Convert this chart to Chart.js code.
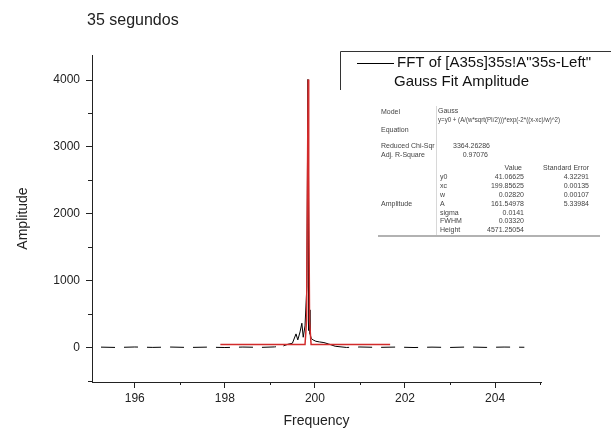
<!DOCTYPE html>
<html lang="es">
<head>
<meta charset="UTF-8">
<title>FFT 35 segundos</title>
<script src="https://cdn.jsdelivr.net/npm/chart.js"></script>
<style>
  html, body { margin: 0; padding: 0; background: #fff; }
  #wrap { width: 611px; height: 436px; }
</style>
</head>
<body>
<div id="wrap"><canvas id="fft"></canvas></div>

<script>
// ---- FFT of the 35 s left channel (black) ----
const fftFreq = [195.25, 195.6, 196.0, 196.4, 196.8, 197.2, 197.6, 198.0, 198.4, 198.8,
                 199.1, 199.3, 199.4, 199.5, 199.58, 199.62, 199.67, 199.71, 199.74, 199.78,
                 199.82, 199.845, 199.86, 199.875, 199.89, 199.92, 199.96, 200.02, 200.1, 200.2,
                 200.3, 200.45, 200.7, 201.0, 201.4, 201.8, 202.2, 202.6, 203.0, 203.4,
                 203.8, 204.2, 204.65];
const fftAmp  = [2, -3, 4, -2, 3, -3, 2, -4, 3, -2,
                 5, 20, 45, 60, 200, 110, 230, 360, 150, 320,
                 900, 4010, 250, 560, 200, 130, 110, 90, 80, 70,
                 50, 15, -3, 4, -2, 3, -4, 2, -3, 4,
                 -2, 3, 0];

// ---- Gauss fit (red) ----
const fitFreq = [197.9, 199.78, 199.815, 199.835, 199.85, 199.862, 199.88, 199.915, 201.67];
const fitAmp  = [41, 41, 400, 2600, 4010, 2600, 400, 41, 41];

// ---- axes ----
const xMin = 195.05, xMax = 205.02;
const yMin = -520, yMax = 4375;
const xTicks = [196, 198, 200, 202, 204];
const xMinor = [197, 199, 201, 203, 205];
const yTicks = [0, 1000, 2000, 3000, 4000];
const yMinor = [-500, 500, 1500, 2500, 3500];

const chartTitle = '35 segundos';
const legendLabels = ['FFT of [A35s]35s!A"35s-Left"', 'Gauss Fit Amplitude'];

// ---- fit results table ----
const fitInfo = [
  ['Model', 'Gauss'],
  ['Equation', 'y=y0 + (A/(w*sqrt(PI/2)))*exp(-2*((x-xc)/w)^2)'],
  ['Reduced Chi-Sqr', '3364.26286'],
  ['Adj. R-Square', '0.97076']
];
const paramNames  = ['y0', 'xc', 'w', 'A', 'sigma', 'FWHM', 'Height'];
const paramValues = ['41.06625', '199.85625', '0.02820', '161.54978', '0.0141', '0.03320', '4571.25054'];
const paramErrors = ['4.32291', '0.00135', '0.00107', '5.33984', '', '', ''];

const FONT = "'Liberation Sans', Arial, sans-serif";
const INK = '#222';

function toXY(xs, ys) {
  return xs.map((x, i) => ({x: x, y: ys[i]}));
}

// black trace: broken (dashed) along the baseline, solid around the peak
const baseDash = ctx =>
  (ctx.p1.parsed.x <= 199.3 || ctx.p0.parsed.x >= 200.45) ? [14, 9] : undefined;

// title, minor ticks, legend box and fit table
const decorations = {
  id: 'decorations',
  afterDraw(chart) {
    const c = chart.ctx;
    const xs = chart.scales.x, ys = chart.scales.y;
    c.save();

    // minor ticks
    c.strokeStyle = INK;
    c.lineWidth = 1;
    c.beginPath();
    xMinor.forEach(v => {
      const px = Math.round(xs.getPixelForValue(v)) + 0.5;
      c.moveTo(px, xs.top); c.lineTo(px, xs.top + 3);
    });
    yMinor.forEach(v => {
      const py = Math.round(ys.getPixelForValue(v)) + 0.5;
      c.moveTo(ys.right, py); c.lineTo(ys.right - 4, py);
    });
    c.stroke();

    // title
    c.fillStyle = INK;
    c.font = '16px ' + FONT;
    c.textBaseline = 'middle';
    c.textAlign = 'left';
    c.fillText(chartTitle, 87, 21);

    // legend frame (open at the right)
    c.strokeStyle = '#333';
    c.beginPath();
    c.moveTo(340.5, 90); c.lineTo(340.5, 51.5); c.lineTo(611, 51.5);
    c.stroke();
    c.strokeStyle = '#000';
    c.beginPath();
    c.moveTo(357, 63.5); c.lineTo(394, 63.5);
    c.stroke();
    c.fillStyle = '#111';
    c.font = '15px ' + FONT;
    c.fillText(legendLabels[0], 397, 63);
    c.fillText(legendLabels[1], 394, 82);

    // fit table
    c.font = '7px ' + FONT;
    c.fillStyle = '#444';
    c.fillText(fitInfo[0][0], 381, 112);
    c.fillText(fitInfo[0][1], 438, 111);
    c.fillText(fitInfo[1][1], 438, 120, 122);
    c.fillText(fitInfo[1][0], 381, 130);
    c.fillText(fitInfo[2][0], 381, 146);
    c.fillText(fitInfo[3][0], 381, 155);
    c.textAlign = 'right';
    c.fillText(fitInfo[2][1], 490, 146);
    c.fillText(fitInfo[3][1], 488, 155);
    c.fillText('Value', 522, 168);
    c.fillText('Standard Error', 589, 168);
    paramNames.forEach((n, i) => {
      const y = 177 + i * 8.9;
      c.textAlign = 'left';
      c.fillText(n, 440, y);
      c.textAlign = 'right';
      c.fillText(paramValues[i], 524, y);
      if (paramErrors[i]) c.fillText(paramErrors[i], 589, y);
    });
    c.textAlign = 'left';
    c.fillText('Amplitude', 381, 204);

    c.strokeStyle = '#d8d8d8';
    c.beginPath();
    c.moveTo(436.5, 106); c.lineTo(436.5, 235);
    c.stroke();
    c.strokeStyle = '#999';
    c.lineWidth = 1.5;
    c.beginPath();
    c.moveTo(378, 236); c.lineTo(600, 236);
    c.stroke();

    c.restore();
  }
};

new Chart(document.getElementById('fft'), {
  type: 'line',
  data: {
    datasets: [
      {
        label: legendLabels[0],
        data: toXY(fftFreq, fftAmp),
        borderColor: '#000',
        borderWidth: 1,
        pointRadius: 0,
        tension: 0,
        order: 1,
        segment: { borderDash: baseDash }
      },
      {
        label: legendLabels[1],
        data: toXY(fitFreq, fitAmp),
        borderColor: '#d22b2b',
        borderWidth: 1.5,
        pointRadius: 0,
        tension: 0,
        order: 0
      }
    ]
  },
  options: {
    responsive: true,
    maintainAspectRatio: false,
    animation: false,
    layout: { padding: { top: 55, right: 70, left: 0, bottom: 0 } },
    plugins: {
      legend: { display: false },
      tooltip: { enabled: false }
    },
    scales: {
      x: {
        type: 'linear',
        min: xMin,
        max: xMax,
        afterBuildTicks: s => { s.ticks = xTicks.map(v => ({value: v})); },
        afterFit: s => { s.height = 54; },
        grid: { drawOnChartArea: false, tickLength: 6, tickColor: INK },
        border: { color: INK, width: 1 },
        ticks: { color: INK, padding: 3, font: { family: FONT, size: 12 }, maxRotation: 0,
                 callback: v => String(v) },
        title: { display: true, text: 'Frequency', color: INK, padding: { top: 0, bottom: 6 },
                 font: { family: FONT, size: 14 } }
      },
      y: {
        min: yMin,
        max: yMax,
        afterBuildTicks: s => { s.ticks = yTicks.map(v => ({value: v})); },
        afterFit: s => { s.width = 92; },
        grid: { drawOnChartArea: false, tickLength: 6, tickColor: INK },
        border: { color: INK, width: 1 },
        ticks: { color: INK, padding: 6, font: { family: FONT, size: 12 },
                 callback: v => String(v) },
        title: { display: true, text: 'Amplitude', color: INK, padding: { top: 15 },
                 font: { family: FONT, size: 14 } }
      }
    }
  },
  plugins: [decorations]
});
</script>
</body>
</html>
